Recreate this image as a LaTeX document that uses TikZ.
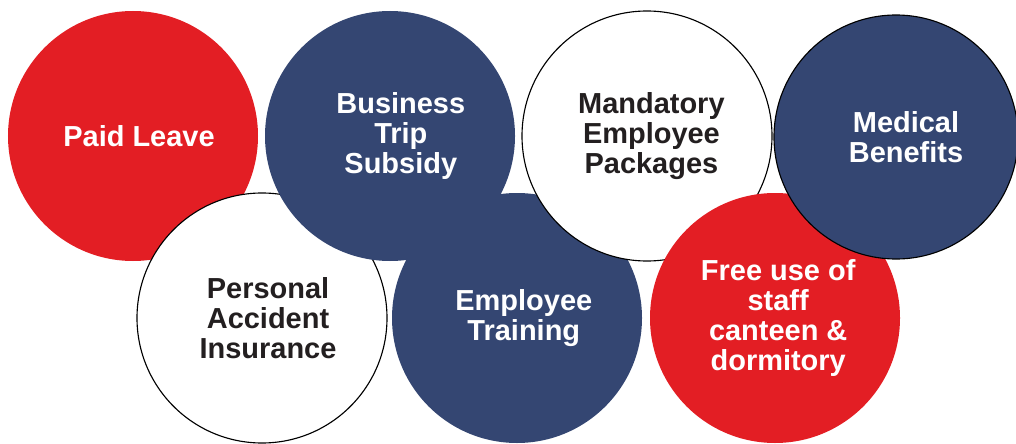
\documentclass[tikz,border=0pt]{standalone}
\usepackage{fontspec}
\setmainfont{Liberation Sans}
\usepackage{tikz}
\definecolor{bubred}{HTML}{E31E24}
\definecolor{bubnavy}{HTML}{344672}
\definecolor{bubtext}{HTML}{231F20}
\tikzset{
  bubble/.style={circle,minimum size=6.25cm,inner sep=0pt},
  bubtxt/.style={align=center,inner sep=0pt,font=\bfseries\fontsize{20.6}{21.3}\selectfont},
  redbub/.style={bubble,fill=bubred,label={[bubtxt,text=white,xshift=#1]center:\bubname}},
  navybub/.style={bubble,fill=bubnavy,label={[bubtxt,text=white,xshift=#1]center:\bubname}},
  whitebub/.style={bubble,fill=white,draw=black,line width=0.8pt,label={[bubtxt,text=bubtext,xshift=#1]center:\bubname}}
}

\begin{document}
\begin{tikzpicture}
\useasboundingbox (0,0) rectangle (25.4,11.075);
% drawn from back to front
\def\bubname{Paid Leave}
\node[redbub=0.15cm] (paid) at (3.325,7.675) {};
\def\bubname{Personal\\Accident\\Insurance}
\node[whitebub=0.15cm] (accident) at (6.55,3.125) {};
\def\bubname{Business\\Trip\\Subsidy}
\node[navybub=0.27cm] (trip) at (9.75,7.675) {};
\def\bubname{Employee\\Training}
\node[navybub=0.17cm] (training) at (12.925,3.125) {};
\def\bubname{Mandatory\\Employee\\Packages}
\node[whitebub=0.11cm] (mandatory) at (16.175,7.675) {};
\def\bubname{Free use of\\staff\\canteen \&\\dormitory}
\node[redbub=0.08cm] (canteen) at (19.375,3.125) {};
\def\bubname{Medical\\Benefits}
\node[navybub=0.25cm,draw=black,line width=0.8pt,minimum size=6.1cm] (medical) at (22.4,7.65) {};
\end{tikzpicture}
\end{document}
